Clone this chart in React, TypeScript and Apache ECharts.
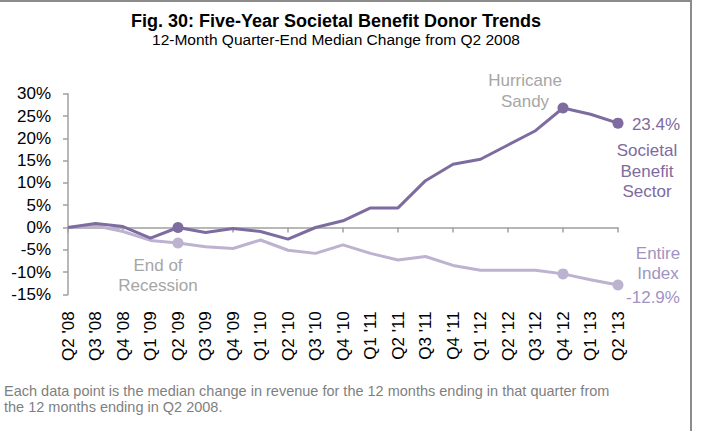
import React, { useEffect, useRef } from "react";
import * as echarts from "echarts";

const categories = [
  "Q2 '08", "Q3 '08", "Q4 '08", "Q1 '09", "Q2 '09", "Q3 '09", "Q4 '09",
  "Q1 '10", "Q2 '10", "Q3 '10", "Q4 '10", "Q1 '11", "Q2 '11", "Q3 '11",
  "Q4 '11", "Q1 '12", "Q2 '12", "Q3 '12", "Q4 '12", "Q1 '13", "Q2 '13",
];
const societalBenefit = [
  0, 0.9, 0.2, -2.4, 0, -1.1, -0.2, -0.9, -2.6, 0, 1.5, 4.4, 4.4, 10.5,
  14.2, 15.3, 18.5, 21.7, 26.8, 25.4, 23.4,
];
const entireIndex = [
  0, 0.4, -0.9, -2.9, -3.5, -4.3, -4.7, -2.8, -5.1, -5.8, -3.9, -5.8, -7.3,
  -6.5, -8.5, -9.6, -9.6, -9.6, -10.4, -11.7, -12.9,
];
const markerIndices = [4, 18, 20];
const yTicks = { min: -15, max: 30, interval: 5 };
const titleText = "Fig. 30: Five-Year Societal Benefit Donor Trends";
const subtitleText = "12-Month Quarter-End Median Change from Q2 2008";
const footnoteLines = [
  "Each data point is the median change in revenue for the 12 months ending in that quarter from",
  "the 12 months ending in Q2 2008.",
];

const FONT = "'Liberation Sans', Arial, Helvetica, sans-serif";
const DARK = "#7E6B9F";
const LIGHT = "#BDB2D0";
const LIGHT_TEXT = "#A193C2";
const GRAY_TEXT = "#A6A6A6";
const AXIS = "#A0A0A0";

export default function App() {
  const ref = useRef<HTMLDivElement>(null);

  useEffect(() => {
    document.body.style.margin = "0";
    if (!ref.current) return;
    const chart = echarts.init(ref.current, null, { renderer: "svg" });
    const last = categories.length - 1;
    const pct = (v: number) => `${v.toFixed(1)}%`;
    const symSize = (_v: any, p: any) => (markerIndices.includes(p.dataIndex) ? 11 : 0);

    chart.setOption({
      animation: false,
      textStyle: { fontFamily: FONT },
      title: {
        text: titleText,
        subtext: subtitleText,
        left: 331,
        textAlign: "center",
        top: 7,
        itemGap: 1,
        textStyle: { fontSize: 18, fontWeight: "bold", color: "#000", fontFamily: FONT },
        subtextStyle: { fontSize: 15.5, color: "#000", fontFamily: FONT },
      },
      grid: { left: 68, right: 84, top: 93.7, bottom: 136.6, containLabel: false },
      xAxis: [
        {
          type: "category",
          data: categories,
          boundaryGap: false,
          position: "bottom",
          axisLine: { show: true, onZero: true, lineStyle: { color: AXIS, width: 1.5 } },
          axisTick: { show: true, length: 5, lineStyle: { color: AXIS, width: 1.5 } },
          axisLabel: { show: false },
          splitLine: { show: false },
        },
        {
          type: "category",
          data: categories,
          boundaryGap: false,
          position: "bottom",
          axisLine: { show: false, onZero: false },
          axisTick: { show: false },
          axisLabel: {
            show: true,
            interval: 0,
            rotate: 90,
            margin: 17,
            fontSize: 17,
            color: "#000",
            fontFamily: FONT,
          },
          splitLine: { show: false },
        },
      ],
      yAxis: {
        type: "value",
        min: yTicks.min,
        max: yTicks.max,
        interval: yTicks.interval,
        axisLine: { show: true, lineStyle: { color: AXIS, width: 1.5 } },
        axisTick: { show: true, length: 5, lineStyle: { color: AXIS, width: 1.5 } },
        splitLine: { show: false },
        axisLabel: { formatter: "{value}%", fontSize: 17, color: "#000", margin: 17, fontFamily: FONT },
      },
      series: [
        {
          name: "Entire Index",
          type: "line",
          xAxisIndex: 0,
          data: entireIndex,
          symbol: "circle",
          symbolSize: symSize,
          showAllSymbol: true,
          lineStyle: { color: LIGHT, width: 3 },
          itemStyle: { color: LIGHT },
          z: 2,
          markPoint: {
            symbol: "circle",
            symbolSize: 0,
            silent: true,
            label: { show: true, position: "inside", fontSize: 17, lineHeight: 20, fontFamily: FONT },
            data: [
              {
                coord: [categories[4], entireIndex[4]],
                label: { formatter: "End of\nRecession", offset: [-20, 32], color: GRAY_TEXT },
              },
              {
                coord: [categories[last], entireIndex[last]],
                label: { formatter: "Entire\nIndex", offset: [40, -22], color: LIGHT_TEXT },
              },
              {
                coord: [categories[last], entireIndex[last]],
                label: { formatter: pct(entireIndex[last]), offset: [35, 12.5], color: LIGHT_TEXT },
              },
            ],
          },
        },
        {
          name: "Societal Benefit Sector",
          type: "line",
          xAxisIndex: 0,
          data: societalBenefit,
          symbol: "circle",
          symbolSize: symSize,
          showAllSymbol: true,
          lineStyle: { color: DARK, width: 3 },
          itemStyle: { color: DARK },
          z: 3,
          markPoint: {
            symbol: "circle",
            symbolSize: 0,
            silent: true,
            label: { show: true, position: "inside", fontSize: 17, lineHeight: 20.5, fontFamily: FONT },
            data: [
              {
                coord: [categories[18], societalBenefit[18]],
                label: { formatter: "Hurricane\nSandy", offset: [-38, -17], color: GRAY_TEXT },
              },
              {
                coord: [categories[last], societalBenefit[last]],
                label: { formatter: pct(societalBenefit[last]), offset: [38, 1.5], color: DARK },
              },
              {
                coord: [categories[last], societalBenefit[last]],
                label: { formatter: "Societal\nBenefit\nSector", offset: [29, 48], color: DARK },
              },
            ],
          },
        },
      ],
      graphic: [
        { type: "line", shape: { x1: 0, y1: 1, x2: 691, y2: 1 }, style: { stroke: "#8C8C8C", lineWidth: 2 } },
        { type: "line", shape: { x1: 691, y1: 0, x2: 691, y2: 431 }, style: { stroke: "#8C8C8C", lineWidth: 2 } },
        {
          type: "text",
          left: 4,
          top: 383,
          style: { text: footnoteLines[0], fontSize: 14.5, fill: "#7F7F7F", fontFamily: FONT },
        },
        {
          type: "text",
          left: 4,
          top: 399,
          style: { text: footnoteLines[1], fontSize: 14.5, fill: "#7F7F7F", fontFamily: FONT },
        },
      ],
    });
    return () => chart.dispose();
  }, []);

  return <div ref={ref} style={{ width: 702, height: 431 }} />;
}
